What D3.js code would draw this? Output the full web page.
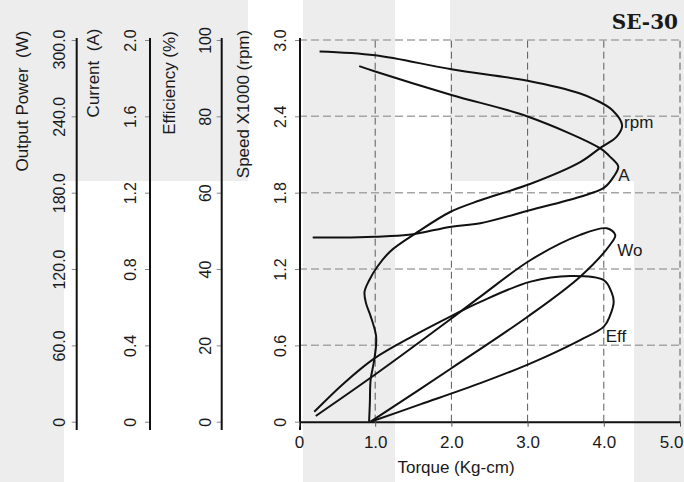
<!DOCTYPE html>
<html>
<head>
<meta charset="utf-8">
<script src="https://cdn.jsdelivr.net/npm/d3@7"></script>
<style>
body { margin: 0; background: #fff; }
svg text { font-family: "Liberation Sans", Arial, sans-serif; }
</style>
</head>
<body>
<div id="chart"></div>
<script>
// axis ticks
var torqueTicks = [0, 1, 2, 3, 4, 5];
var speedTicks = [0, 0.6, 1.2, 1.8, 2.4, 3.0];
var currentTicks = [0, 0.4, 0.8, 1.2, 1.6, 2.0];
var effTicks = [0, 20, 40, 60, 80, 100];
var powerTicks = [0, 60, 120, 180, 240, 300];

// curves (torque in Kg-cm)
var rpmTorque = [0.27, 1.0, 2.0, 3.0, 3.69, 3.89, 4.11, 4.24, 4.17, 3.95, 3.69, 3.04, 2.38, 1.99, 1.53, 1.2, 1.03, 0.92, 0.86, 0.88, 0.94, 1.01, 1.01, 0.98, 0.94, 0.93, 0.92];
var rpmSpeed = [2.91, 2.88, 2.77, 2.68, 2.58, 2.53, 2.45, 2.33, 2.24, 2.15, 2.04, 1.87, 1.74, 1.65, 1.48, 1.34, 1.22, 1.11, 1.02, 0.93, 0.83, 0.68, 0.59, 0.46, 0.33, 0.15, 0];

var ampTorque = [0.79, 1.0, 2.0, 3.0, 3.95, 4.07, 4.19, 4.13, 4.0, 3.69, 3.04, 2.38, 2.0, 1.44, 0.99, 0.55, 0.18];
var ampCurrent = [1.863, 1.835, 1.712, 1.599, 1.433, 1.393, 1.337, 1.284, 1.225, 1.179, 1.109, 1.040, 1.022, 0.979, 0.969, 0.965, 0.965];

var woTorque = [0.22, 0.99, 2.0, 2.38, 3.04, 3.69, 4.04, 4.15, 4.08, 3.69, 3.0, 2.0, 0.94];
var woPower = [4.5, 36.7, 81.1, 98.3, 127.1, 146.8, 152.0, 146.8, 138.9, 114.0, 82.5, 42.0, 0];

var effTorque = [0.20, 0.59, 0.99, 1.50, 2.03, 2.38, 3.04, 3.56, 4.0, 4.10, 4.13, 4.08, 4.0, 3.69, 3.04, 2.38, 1.60, 0.94];
var effValue = [2.6, 10.1, 16.6, 22.5, 28.0, 31.4, 36.7, 38.2, 37.1, 34.0, 31.4, 27.7, 24.9, 21.4, 15.3, 10.1, 4.6, 0];

var W = 684, H = 482;
var svg = d3.select('#chart').append('svg')
	.attr('width', W)
	.attr('height', H);

// the grey blotches behind the scan
var patches = [[0, 0, 248, 181], [0, 0, 64, H], [303, 0, 92, H], [450, 0, 234, 181], [634, 181, 50, H - 181]];
svg.selectAll('rect.patch').data(patches).join('rect')
	.attr('x', function(d) {return d[0];})
	.attr('y', function(d) {return d[1];})
	.attr('width', function(d) {return d[2];})
	.attr('height', function(d) {return d[3];})
	.attr('fill', '#ededed');

var x = d3.scaleLinear().domain([0, 5]).range([299, 680]);
var yRange = [421.7, 40];
var speed = d3.scaleLinear().domain([0, 3]).range(yRange);
var current = d3.scaleLinear().domain([0, 2]).range(yRange);
var eff = d3.scaleLinear().domain([0, 100]).range(yRange);
var power = d3.scaleLinear().domain([0, 300]).range(yRange);

// grid
svg.append('g').selectAll('line').data(speedTicks.slice(1)).join('line')
	.attr('x1', x(0)).attr('x2', x(5))
	.attr('y1', function(d) {return speed(d);})
	.attr('y2', function(d) {return speed(d);})
	.attr('stroke', '#a5a5a5').attr('stroke-width', 1.5)
	.attr('stroke-dasharray', '8,4');
svg.append('g').selectAll('line').data(torqueTicks.slice(1)).join('line')
	.attr('x1', function(d) {return x(d);})
	.attr('x2', function(d) {return x(d);})
	.attr('y1', speed(0)).attr('y2', speed(3))
	.attr('stroke', '#5a5a5a').attr('stroke-width', 1)
	.attr('stroke-dasharray', '7,4');

var fmt1 = function(d) {return d === 0 ? '0' : d.toFixed(1);};
var fmt0 = function(d) {return String(d);};

var leftAxis = function(scale, ticks, format, xPos, gap, topShift) {
	var g = svg.append('g')
		.attr('transform', 'translate(' + xPos + ',0)')
		.call(d3.axisLeft(scale).tickValues(ticks).tickFormat(format).tickSize(5).tickSizeOuter(0))
		.attr('font-family', null)
		.attr('font-size', 16);
	g.select('.domain').remove();
	g.selectAll('.tick line').attr('stroke', '#888');
	g.selectAll('.tick text')
		.attr('x', null).attr('dy', null)
		.attr('fill', '#1a1a1a')
		.attr('text-anchor', 'middle')
		.attr('transform', function(d, i) {
			var shift = (i === ticks.length - 1) ? topShift : 0;
			return 'translate(' + (-gap) + ',' + shift + ') rotate(-90)';
		});
	g.append('line')
		.attr('y1', 38).attr('y2', 430)
		.attr('stroke', '#111').attr('stroke-width', 2);
	return g;
};

leftAxis(power, powerTicks, fmt1, 76.7, 12, 9);
leftAxis(current, currentTicks, fmt1, 150, 14, 0);
leftAxis(eff, effTicks, fmt0, 221.7, 10.5, 0);
leftAxis(speed, speedTicks, fmt1, 300, 14.5, 0);

var axisTitles = [
	{text: 'Output Power  (W)', x: 28, y: 101},
	{text: 'Current  (A)', x: 99, y: 73},
	{text: 'Efficiency (%)', x: 175, y: 83},
	{text: 'Speed X1000 (rpm)', x: 249, y: 104}
];
svg.selectAll('text.ytitle').data(axisTitles).join('text')
	.classed('ytitle', true)
	.attr('transform', function(d) {return 'translate(' + d.x + ',' + d.y + ') rotate(-90)';})
	.attr('text-anchor', 'middle')
	.attr('font-size', 17)
	.attr('fill', '#1a1a1a')
	.style('white-space', 'pre')
	.text(function(d) {return d.text;});

// torque axis
var xg = svg.append('g')
	.attr('transform', 'translate(0,' + speed(0) + ')')
	.call(d3.axisBottom(x).tickValues(torqueTicks).tickFormat(fmt1).tickSize(5).tickSizeOuter(0))
	.attr('font-family', null)
	.attr('font-size', 17);
xg.select('.domain').attr('stroke', '#111').attr('stroke-width', 2);
xg.selectAll('.tick line').attr('stroke', '#555');
xg.selectAll('.tick text')
	.attr('y', 26).attr('dy', null).attr('fill', '#1a1a1a')
	.filter(function(d) {return d === 5;})
	.attr('text-anchor', 'end')
	.attr('x', 3); // last label sits flush with the edge
svg.append('text')
	.attr('x', 456).attr('y', 473)
	.attr('text-anchor', 'middle')
	.attr('font-size', 17)
	.attr('fill', '#1a1a1a')
	.text('Torque (Kg-cm)');

// curves
var curves = [
	{name: 'rpm', pts: d3.zip(rpmTorque, rpmSpeed), scale: speed, dx: 2, dy: 3},
	{name: 'A', pts: d3.zip(ampTorque, ampCurrent), scale: current, dx: 0, dy: 14},
	{name: 'Wo', pts: d3.zip(woTorque, woPower), scale: power, dx: 2, dy: 21},
	{name: 'Eff', pts: d3.zip(effTorque, effValue), scale: eff, dx: -8, dy: 40}
];

curves.forEach(function(c) {
	var line = d3.line()
		.curve(d3.curveCatmullRom.alpha(0.5))
		.x(function(d) {return x(d[0]);})
		.y(function(d) {return c.scale(d[1]);});
	svg.append('path')
		.datum(c.pts)
		.attr('d', line)
		.attr('fill', 'none')
		.attr('stroke', '#111')
		.attr('stroke-width', 2);
	var nose = d3.greatest(c.pts, function(d) {return d[0];});
	svg.append('text')
		.attr('x', x(nose[0]) + c.dx)
		.attr('y', c.scale(nose[1]) + c.dy)
		.attr('font-size', 17)
		.attr('fill', '#1a1a1a')
		.text(c.name);
});

svg.append('text')
	.attr('x', 678).attr('y', 29)
	.attr('text-anchor', 'end')
	.attr('font-weight', 'bold')
	.attr('font-size', 20)
	.attr('fill', '#1a1a1a')
	.style('font-family', '"DejaVu Serif", serif')
	.text('SE-30');
</script>
</body>
</html>
